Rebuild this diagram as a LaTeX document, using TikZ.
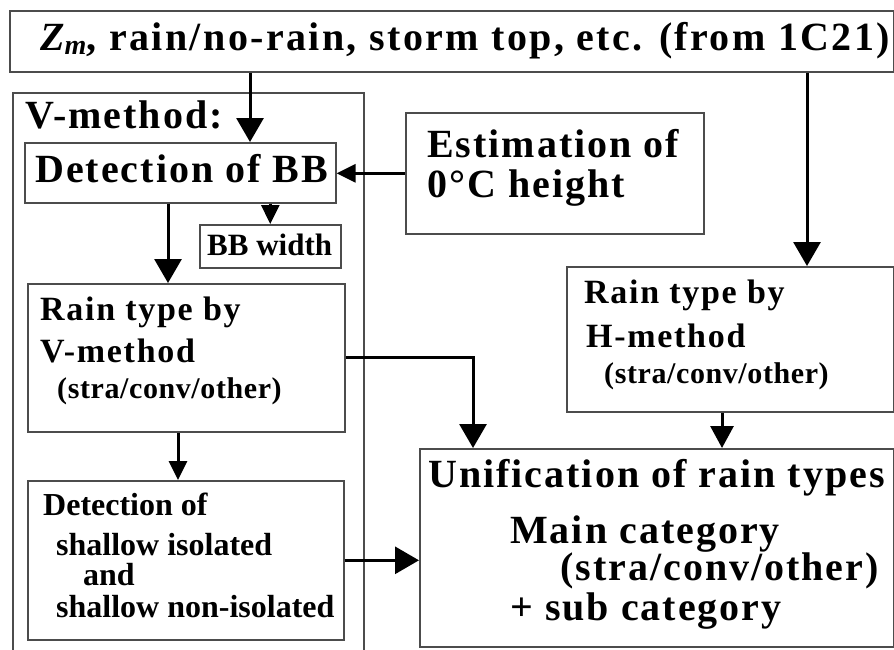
\documentclass[tikz,border=0pt]{standalone}
\usepackage{fontspec}
\setmainfont{Liberation Serif}
\newfontfamily\spfont{Liberation Serif}[LetterSpace=5]
\newfontfamily\sptfont{Liberation Serif}[LetterSpace=2]
\newfontfamily\sptopfont{Liberation Serif}[LetterSpace=6]
\usetikzlibrary{arrows.meta}
\newcommand{\toptxt}{\sptopfont\bfseries\fontsize{40}{44}\selectfont}
\newcommand{\bigtxt}{\spfont\bfseries\fontsize{40}{44}\selectfont}
\newcommand{\midtxt}{\spfont\bfseries\fontsize{34}{38}\selectfont}
\newcommand{\partxt}{\sptfont\bfseries\fontsize{30}{34}\selectfont}
\newcommand{\plaintxt}{\bfseries\fontsize{32}{36}\selectfont}
\newcommand{\smalltxt}{\bfseries\fontsize{31}{34}\selectfont}
\begin{document}
\begin{tikzpicture}[x=1pt, y=-1pt,
  box/.style={draw=black!70, line width=1.6pt, inner sep=0pt, anchor=north west},
  txt/.style={anchor=base west, inner sep=0pt},
  arrbig/.style={line width=3pt, -{Triangle[length=24pt,width=27pt]}},
  arrmid/.style={line width=3pt, -{Triangle[length=22pt,width=23pt]}},
  arrsmall/.style={line width=3pt, -{Triangle[length=19pt,width=18pt]}}]
\useasboundingbox (0,0) rectangle (894,649);
\node[box, minimum width=884pt, minimum height=61pt] (top) at (9,10) {};
\node[box, minimum width=351pt, minimum height=580pt] (vframe) at (12,92) {};
\node[box, minimum width=311pt, minimum height=60pt] (detbb) at (24,142) {};
\node[box, minimum width=298pt, minimum height=121pt] (est) at (405,112) {};
\node[box, minimum width=141pt, minimum height=43pt] (bbw) at (199,224) {};
\node[box, minimum width=317pt, minimum height=148pt] (rainv) at (27,283) {};
\node[box, minimum width=316pt, minimum height=159pt] (shal) at (27,480) {};
\node[box, minimum width=327pt, minimum height=145pt] (rainh) at (566,266) {};
\node[box, minimum width=474pt, minimum height=198pt] (unif) at (419,448) {};
\node[txt, anchor=base] (topT) at (465,50) {\toptxt\textit{Z\textsubscript{m}}, rain/no-rain, storm top, etc. (from 1C21)};
\node[txt] (vframeT) at (25,128) {\bigtxt V-method:};
\node[txt] (detbbT) at (35,182) {\bigtxt Detection of BB};
\node[txt] (estT1) at (427,157) {\bigtxt Estimation of};
\node[txt] (estT2) at (427,197) {\bigtxt 0°C height};
\node[txt] (bbwT) at (207,255) {\smalltxt BB width};
\node[txt] (rainvT1) at (40,320) {\midtxt Rain type by};
\node[txt] (rainvT2) at (40,362) {\midtxt V-method};
\node[txt] (rainvT3) at (57,398) {\partxt (stra/conv/other)};
\node[txt] (shalT1) at (43,515) {\plaintxt Detection of};
\node[txt] (shalT2) at (56,555) {\plaintxt shallow isolated};
\node[txt] (shalT3) at (83,585) {\plaintxt and};
\node[txt] (shalT4) at (56,617) {\plaintxt shallow non-isolated};
\node[txt] (rainhT1) at (584,303) {\midtxt Rain type by};
\node[txt] (rainhT2) at (586,347) {\midtxt H-method};
\node[txt] (rainhT3) at (604,383) {\partxt (stra/conv/other)};
\node[txt] (unifT1) at (428,487) {\bigtxt Unification of rain types};
\node[txt] (unifT2) at (510,543) {\bigtxt Main category};
\node[txt] (unifT3) at (560,580) {\bigtxt (stra/conv/other)};
\node[txt] (unifT4) at (510,620) {\bigtxt + sub category};
\coordinate (xA) at (250,0);
\coordinate (xB) at (168,0);
\coordinate (xC) at (178,0);
\coordinate (xD) at (473,0);
\coordinate (xE) at (807,0);
\coordinate (xF) at (722,0);
\draw[arrbig] (xA |- top.south) -- (xA |- detbb.north);
\draw[arrsmall] (est.west) -- (est.west -| detbb.east);
\draw[arrsmall] (bbw.north |- detbb.south) -- (bbw.north);
\draw[arrbig] (xB |- detbb.south) -- (xB |- rainv.north);
\draw[arrsmall] (xC |- rainv.south) -- (xC |- shal.north);
\draw[arrbig] (rainv.east) -| (xD |- unif.north);
\draw[arrbig] (shal.east) -- (shal.east -| unif.west);
\draw[arrbig] (xE |- top.south) -- (xE |- rainh.north);
\draw[arrmid] (xF |- rainh.south) -- (xF |- unif.north);
\end{tikzpicture}
\end{document}
